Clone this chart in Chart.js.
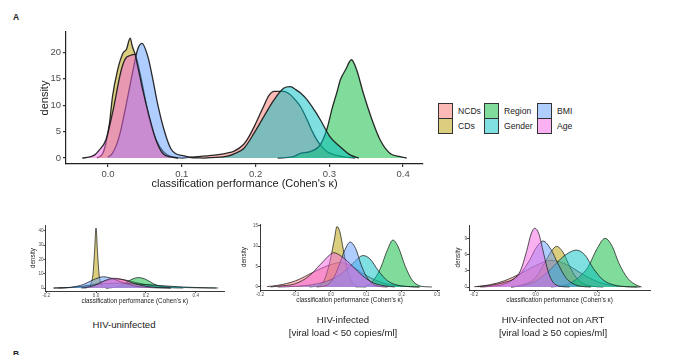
<!DOCTYPE html>
<html><head><meta charset="utf-8">
<script src="https://cdn.jsdelivr.net/npm/chart.js@4"></script>
<style>
html,body{margin:0;padding:0;background:#fff;width:680px;height:355px;overflow:hidden;font-family:"Liberation Sans",Arial,sans-serif;}
canvas{position:absolute;}
.t{position:absolute;color:#222;white-space:nowrap;line-height:1;}
.ptitle{position:absolute;color:#222;text-align:center;font-size:9.6px;line-height:13px;white-space:nowrap;transform:translateX(-50%);}
.lg-box{position:absolute;width:13px;height:14px;border:1px solid #333;}
.lg-txt{position:absolute;font-size:8.6px;color:#222;line-height:1;}
</style></head><body>
<div class="t" style="left:13px;top:13px;font-size:8.5px;font-weight:bold;">A</div>
<div class="t" style="left:13px;top:350px;font-size:8.5px;font-weight:bold;">B</div>
<canvas id="main" width="430" height="200" style="left:0;top:0"></canvas>
<canvas id="p1" width="235" height="100" style="left:0;top:215px"></canvas>
<canvas id="p2" width="240" height="100" style="left:210px;top:215px"></canvas>
<canvas id="p3" width="250" height="100" style="left:420px;top:215px"></canvas>
<div id="legend"></div>
<div class="ptitle" style="left:124px;top:318px;">HIV-uninfected</div>
<div class="ptitle" style="left:343px;top:313px;">HIV-infected<br>[viral load &lt; 50 copies/ml]</div>
<div class="ptitle" style="left:553px;top:313px;">HIV-infected not on ART<br>[viral load ≥ 50 copies/ml]</div>
<script>
// ---------- categories ----------
const seriesNames = ['NCDs','CDs','Region','Gender','BMI','Age'];
const seriesColors = ['#F8766D','#B79F00','#00BA38','#00BFC4','#619CFF','#F564E3'];
const xTitle = "classification performance (Cohen's κ)";
const yTitle = 'density';

// ---------- main panel (A) ----------
const mainK_NCDs   = [0.10, 0.14, 0.16, 0.171, 0.184, 0.19, 0.198, 0.205, 0.211, 0.218, 0.225, 0.232, 0.238, 0.245, 0.252, 0.261, 0.270, 0.277, 0.286, 0.297, 0.310, 0.320, 0.335];
const mainD_NCDs   = [0, 0.5, 0.9, 1.3, 2.6, 3.8, 5.9, 8.0, 9.8, 11.8, 12.6, 12.6, 12.6, 12.2, 11.3, 9.7, 7.2, 5.0, 2.8, 1.2, 0.5, 0.2, 0];
const mainK_CDs    = [-0.015, -0.007, -0.003, 0.002, 0.006, 0.013, 0.020, 0.025, 0.030, 0.033, 0.038, 0.045, 0.055, 0.065, 0.075, 0.085, 0.10];
const mainD_CDs    = [0, 0.9, 2.8, 6.6, 11.6, 16.7, 19.8, 20.6, 22.7, 21.1, 19.2, 15.0, 8.0, 3.5, 1.2, 0.3, 0];
const mainK_Region = [0.23, 0.25, 0.261, 0.274, 0.288, 0.297, 0.304, 0.310, 0.315, 0.322, 0.330, 0.337, 0.346, 0.358, 0.369, 0.382, 0.396, 0.405];
const mainD_Region = [0, 0.2, 0.9, 1.2, 2.6, 5.6, 9.5, 12.3, 14.8, 16.7, 18.6, 16.7, 12.3, 7.2, 3.4, 0.9, 0.25, 0];
const mainK_Gender = [0.13, 0.16, 0.171, 0.184, 0.198, 0.211, 0.225, 0.238, 0.247, 0.255, 0.261, 0.270, 0.280, 0.288, 0.301, 0.315, 0.328, 0.34];
const mainD_Gender = [0, 0.3, 0.8, 1.8, 4.7, 7.8, 11.0, 13.2, 13.5, 12.9, 12.3, 11.0, 9.0, 7.2, 4.0, 2.1, 0.6, 0];
const mainK_BMI    = [0.0, 0.006, 0.015, 0.024, 0.033, 0.040, 0.046, 0.054, 0.060, 0.067, 0.076, 0.085, 0.092, 0.10, 0.11, 0.13];
const mainD_BMI    = [0.2, 0.9, 4.0, 9.7, 16.0, 20.5, 21.7, 19.2, 15.4, 10.4, 5.3, 1.8, 0.8, 0.5, 0.15, 0];
const mainK_Age    = [-0.035, -0.025, -0.018, -0.012, -0.003, 0.006, 0.018, 0.024, 0.030, 0.036, 0.040, 0.047, 0.056, 0.065, 0.074, 0.085, 0.095];
const mainD_Age    = [0, 0.2, 0.6, 1.5, 3.4, 8.5, 16.7, 18.9, 19.4, 19.6, 17.5, 12.9, 7.8, 3.4, 0.9, 0.2, 0];
const mainXTicks = [0.0, 0.1, 0.2, 0.3, 0.4];
const mainXLabels = ['0.0', '0.1', '0.2', '0.3', '0.4'];
const mainYTicks = [0, 5, 10, 15, 20];
const mainYLabels = ['0', '5', '10', '15', '20'];

// ---------- panel B1: HIV-uninfected ----------
const p1K_NCDs   = [-0.17, -0.1, -0.05, 0, 0.04, 0.08, 0.12, 0.16, 0.2, 0.25, 0.3, 0.35, 0.4, 0.48];
const p1D_NCDs   = [0, 0.3, 1.2, 3, 5.2, 6.3, 5.5, 3.8, 2.3, 1.3, 0.7, 0.35, 0.15, 0];
const p1K_CDs    = [-0.05, -0.03, -0.02, -0.012, -0.006, 0, 0.006, 0.012, 0.02, 0.03, 0.05];
const p1D_CDs    = [0, 0.5, 3, 10, 25, 42, 25, 10, 3, 0.5, 0];
const p1K_Region = [0.04, 0.08, 0.11, 0.14, 0.17, 0.2, 0.23, 0.26, 0.3, 0.35];
const p1D_Region = [0, 0.6, 2.5, 5.8, 7.3, 6, 3, 1, 0.2, 0];
const p1K_Gender = [-0.17, -0.1, -0.05, 0, 0.05, 0.1, 0.15, 0.2, 0.25, 0.3, 0.35, 0.4, 0.45, 0.49];
const p1D_Gender = [0, 0.4, 1.2, 2.4, 3.2, 3.4, 3, 2.4, 1.8, 1.2, 0.7, 0.35, 0.1, 0];
const p1K_BMI    = [-0.15, -0.1, -0.05, -0.02, 0.01, 0.03, 0.06, 0.1, 0.15, 0.2, 0.25, 0.3];
const p1D_BMI    = [0, 0.5, 2.5, 5, 7.2, 7.9, 6.9, 4.2, 1.6, 0.5, 0.1, 0];
const p1K_Age    = [-0.06, -0.02, 0.01, 0.04, 0.07, 0.1, 0.13, 0.16, 0.2, 0.25, 0.3];
const p1D_Age    = [0, 1, 3, 5.5, 6.8, 6.2, 4.6, 2.8, 1.2, 0.3, 0];
const p1XTicks = [-0.2, 0.0, 0.2, 0.4];
const p1XLabels = ['-0.2', '0.0', '0.2', '0.4'];
const p1YTicks = [0, 10, 20, 30, 40];
const p1YLabels = ['0', '10', '20', '30', '40'];

// ---------- panel B2: HIV-infected, viral load < 50 ----------
const p2K_NCDs   = [-0.18, -0.15, -0.1, -0.05, 0, 0.03, 0.06, 0.1, 0.15, 0.2, 0.25];
const p2D_NCDs   = [0.1, 0.4, 1.5, 3.6, 5.5, 6, 5, 2.8, 0.9, 0.2, 0];
const p2K_CDs    = [-0.06, -0.03, -0.02, -0.01, 0, 0.01, 0.017, 0.025, 0.035, 0.045, 0.055, 0.065, 0.08, 0.1];
const p2D_CDs    = [0, 0.5, 1.5, 3.8, 7.3, 11.8, 14.8, 13.6, 9.2, 4.8, 2, 0.6, 0.1, 0];
const p2K_Region = [0.07, 0.1, 0.12, 0.14, 0.16, 0.175, 0.19, 0.21, 0.23, 0.25, 0.27, 0.285];
const p2D_Region = [0, 0.3, 1.6, 4.6, 9.2, 11.5, 9.8, 5, 1.6, 0.3, 0.05, 0];
const p2K_Gender = [-0.15, -0.1, -0.05, 0, 0.03, 0.06, 0.091, 0.11, 0.135, 0.16, 0.19, 0.22, 0.25];
const p2D_Gender = [0, 0.15, 0.6, 1.8, 3.3, 5.6, 7.7, 6.9, 3.85, 1.5, 0.4, 0.1, 0];
const p2K_BMI    = [-0.04, -0.01, 0.01, 0.025, 0.04, 0.054, 0.07, 0.085, 0.1, 0.12, 0.14, 0.16];
const p2D_BMI    = [0, 0.5, 2.6, 5.8, 9.2, 11, 9.4, 5.5, 2.6, 0.6, 0.1, 0];
const p2K_Age    = [-0.17, -0.15, -0.1, -0.06, -0.03, 0, 0.008, 0.03, 0.06, 0.09, 0.12, 0.15, 0.18];
const p2D_Age    = [0, 0.2, 0.8, 2.8, 5.5, 8.1, 8.4, 7.5, 5.2, 2.7, 1, 0.3, 0];
const p2XTicks = [-0.2, -0.1, 0.0, 0.1, 0.2, 0.3];
const p2XLabels = ['-0.2', '-0.1', '0.0', '0.1', '0.2', '0.3'];
const p2YTicks = [0, 5, 10, 15];
const p2YLabels = ['0', '5', '10', '15'];

// ---------- panel B3: HIV-infected not on ART ----------
const p3K_NCDs   = [-0.2, -0.15, -0.1, -0.05, 0, 0.05, 0.1, 0.15, 0.2, 0.25, 0.3, 0.33];
const p3D_NCDs   = [0.05, 0.4, 1.2, 2.5, 4, 5, 4.2, 2.5, 1, 0.3, 0.05, 0];
const p3K_CDs    = [-0.08, -0.05, 0, 0.03, 0.05, 0.068, 0.09, 0.111, 0.13, 0.16, 0.2, 0.22];
const p3D_CDs    = [0, 0.3, 1.8, 4.6, 6.6, 7.6, 6.4, 3.8, 1.9, 0.5, 0.05, 0];
const p3K_Region = [0.05, 0.1, 0.14, 0.17, 0.2, 0.226, 0.25, 0.27, 0.3, 0.33, 0.345];
const p3D_Region = [0, 0.4, 1.8, 3.7, 7.2, 9.1, 7.5, 4.55, 1.6, 0.3, 0];
const p3K_Gender = [-0.08, -0.05, 0, 0.05, 0.09, 0.133, 0.16, 0.188, 0.22, 0.26, 0.3, 0.34];
const p3D_Gender = [0, 0.2, 1.1, 3.4, 5.7, 6.9, 6, 3.45, 1.3, 0.3, 0.05, 0];
const p3K_BMI    = [-0.18, -0.15, -0.1, -0.05, -0.02, 0, 0.024, 0.05, 0.073, 0.1, 0.13, 0.16, 0.18];
const p3D_BMI    = [0, 0.1, 0.6, 2.5, 5, 7.2, 8.6, 7, 4.3, 1.6, 0.4, 0.05, 0];
const p3K_Age    = [-0.19, -0.15, -0.1, -0.07, -0.05, -0.03, -0.015, -0.003, 0.01, 0.025, 0.04, 0.055, 0.07, 0.09, 0.11];
const p3D_Age    = [0.05, 0.3, 0.9, 1.6, 3, 6.6, 9.9, 11, 10, 6.5, 3, 1, 0.3, 0.05, 0];
const p3XTicks = [-0.2, 0.0, 0.2];
const p3XLabels = ['-0.2', '0.0', '0.2'];
const p3YTicks = [0, 3, 6, 9];
const p3YLabels = ['0', '3', '6', '9'];

// ---------- helpers ----------
function rgba(hex, a) {
  const n = parseInt(hex.slice(1), 16);
  return `rgba(${(n >> 16) & 255},${(n >> 8) & 255},${n & 255},${a})`;
}
const FONT = '"Liberation Sans", Arial, sans-serif';

function makeDatasets(pairs, bw) {
  return pairs.map((p, i) => ({
    label: seriesNames[i],
    data: p[0].map((k, j) => ({x: k, y: p[1][j]})),
    borderColor: 'rgba(25,25,25,0.92)',
    borderWidth: bw,
    backgroundColor: rgba(seriesColors[i], 0.5),
    fill: 'origin',
    pointRadius: 0,
    cubicInterpolationMode: 'monotone',
    order: pairs.length - i
  }));
}

function makeChart(id, pairs, c) {
  const xT = c.xTicks, xL = c.xLabels, yT = c.yTicks, yL = c.yLabels;
  return new Chart(document.getElementById(id), {
    type: 'line',
    data: {datasets: makeDatasets(pairs, c.bw)},
    options: {
      responsive: false, animation: false, devicePixelRatio: 1,
      layout: {padding: c.pad},
      plugins: {legend: {display: false}, tooltip: {enabled: false}},
      scales: {
        x: {
          type: 'linear', min: c.xMin, max: c.xMax,
          afterBuildTicks: s => { s.ticks = xT.map(v => ({value: v})); },
          afterFit: s => { s.height = c.xH; },
          grid: {display: true, drawOnChartArea: false, drawTicks: true, tickLength: c.tl, color: '#333', lineWidth: c.aw},
          border: {display: true, color: '#222', width: c.aw},
          ticks: {autoSkip: false, maxRotation: 0, padding: c.tp, color: '#4d4d4d',
                  font: {family: FONT, size: c.tickSize},
                  callback: v => { const i = xT.findIndex(t => Math.abs(t - v) < 1e-9); return i >= 0 ? xL[i] : ''; }},
          title: {display: true, text: xTitle, color: '#1a1a1a', font: {family: FONT, size: c.titleSize}, padding: {top: 0, bottom: 0}}
        },
        y: {
          type: 'linear', min: c.yMin, max: c.yMax,
          afterBuildTicks: s => { s.ticks = yT.map(v => ({value: v})); },
          afterFit: s => { s.width = c.yW; },
          grid: {display: true, drawOnChartArea: false, drawTicks: true, tickLength: c.tl, color: '#333', lineWidth: c.aw},
          border: {display: true, color: '#222', width: c.aw},
          ticks: {autoSkip: false, padding: c.tp, color: '#4d4d4d',
                  font: {family: FONT, size: c.tickSize},
                  callback: v => { const i = yT.findIndex(t => Math.abs(t - v) < 1e-9); return i >= 0 ? yL[i] : ''; }},
          title: {display: true, text: yTitle, color: '#1a1a1a', font: {family: FONT, size: c.titleSize}, padding: {top: c.yTitlePad, bottom: 0}}
        }
      }
    }
  });
}

// ---------- charts ----------
makeChart('main', [
  [mainK_NCDs, mainD_NCDs], [mainK_CDs, mainD_CDs], [mainK_Region, mainD_Region],
  [mainK_Gender, mainD_Gender], [mainK_BMI, mainD_BMI], [mainK_Age, mainD_Age]
], {xTicks: mainXTicks, xLabels: mainXLabels, yTicks: mainYTicks, yLabels: mainYLabels,
    xMin: -0.057, xMax: 0.427, yMin: -1.13, yMax: 23.85,
    pad: {left: 0, top: 32, right: 7, bottom: 9}, yW: 66, xH: 27,
    tl: 3, tp: 2, aw: 1.2, bw: 1.3, tickSize: 9.5, titleSize: 11, yTitlePad: 38});

makeChart('p1', [
  [p1K_NCDs, p1D_NCDs], [p1K_CDs, p1D_CDs], [p1K_Region, p1D_Region],
  [p1K_Gender, p1D_Gender], [p1K_BMI, p1D_BMI], [p1K_Age, p1D_Age]
], {xTicks: p1XTicks, xLabels: p1XLabels, yTicks: p1YTicks, yLabels: p1YLabels,
    xMin: -0.2025, xMax: 0.513, yMin: -2.1, yMax: 44.1,
    pad: {left: 0, top: 10, right: 11, bottom: 9.5}, yW: 45.5, xH: 14.5,
    tl: 2, tp: 0, aw: 0.9, bw: 0.8, tickSize: 4.6, titleSize: 6.3, yTitlePad: 29});

makeChart('p2', [
  [p2K_NCDs, p2D_NCDs], [p2K_CDs, p2D_CDs], [p2K_Region, p2D_Region],
  [p2K_Gender, p2D_Gender], [p2K_BMI, p2D_BMI], [p2K_Age, p2D_Age]
], {xTicks: p2XTicks, xLabels: p2XLabels, yTicks: p2YTicks, yLabels: p2YLabels,
    xMin: -0.2, xMax: 0.305, yMin: -0.74, yMax: 15.44,
    pad: {left: 0, top: 9, right: 11, bottom: 10.5}, yW: 50, xH: 14.5,
    tl: 2, tp: 0, aw: 0.9, bw: 0.8, tickSize: 4.6, titleSize: 6.3, yTitlePad: 30});

makeChart('p3', [
  [p3K_NCDs, p3D_NCDs], [p3K_CDs, p3D_CDs], [p3K_Region, p3D_Region],
  [p3K_Gender, p3D_Gender], [p3K_BMI, p3D_BMI], [p3K_Age, p3D_Age]
], {xTicks: p3XTicks, xLabels: p3XLabels, yTicks: p3YTicks, yLabels: p3YLabels,
    xMin: -0.217, xMax: 0.372, yMin: -0.56, yMax: 11.6,
    pad: {left: 0, top: 10, right: 20, bottom: 10.5}, yW: 49, xH: 14.5,
    tl: 2, tp: 0, aw: 0.9, bw: 0.8, tickSize: 4.6, titleSize: 6.3, yTitlePad: 34});

// ---------- legend (3 columns x 2 rows, column-major) ----------
(function () {
  const lg = document.getElementById('legend');
  const colX = [438, 484, 537];
  const rowY = [103, 118];
  seriesNames.forEach((name, i) => {
    const col = Math.floor(i / 2), row = i % 2;
    const b = document.createElement('div');
    b.className = 'lg-box';
    b.style.left = colX[col] + 'px';
    b.style.top = rowY[row] + 'px';
    b.style.background = rgba(seriesColors[i], 0.5);
    lg.appendChild(b);
    const t = document.createElement('div');
    t.className = 'lg-txt';
    t.textContent = name;
    t.style.left = (colX[col] + 20) + 'px';
    t.style.top = (rowY[row] + 4) + 'px';
    lg.appendChild(t);
  });
})();
</script>
</body></html>
